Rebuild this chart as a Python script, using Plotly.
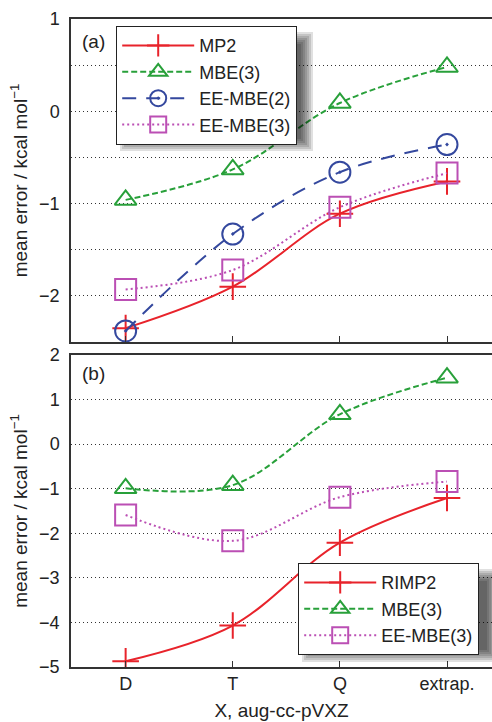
import plotly.graph_objects as go

categories = ["D", "T", "Q", "extrap."]
xpos = [0, 1, 2, 3]

# Panel (a)
a_mp2 = [-2.35, -1.90, -1.11, -0.76]
a_mbe3 = [-0.96, -0.63, 0.09, 0.48]
a_eembe2 = [-2.38, -1.33, -0.66, -0.36]
a_eembe3 = [-1.93, -1.72, -1.04, -0.67]

# Panel (b)
b_rimp2 = [-4.87, -4.07, -2.21, -1.21]
b_mbe3 = [-0.99, -0.92, 0.67, 1.49]
b_eembe3 = [-1.59, -2.17, -1.19, -0.84]

RED = "#e8232b"
GREEN = "#28a03a"
BLUE = "#34489e"
MAG = "#bb4fb4"
FONT = "Liberation Sans, Arial, Helvetica, sans-serif"

L, R, T, B = 71, 492, 19, 667
W, H = 492, 722
def px(x):
    return (x - L) / (R - L)
def py(y):
    return (B - y) / (B - T)

fig = go.Figure()

def add(y, name, color, dash, symbol, size, xa, ya, legend):
    fig.add_trace(go.Scatter(
        x=xpos, y=y, name=name, mode="lines+markers",
        line=dict(color=color, width=2, dash=dash, shape="spline", smoothing=1.0),
        marker=dict(symbol=symbol, size=size, color=color,
                    line=dict(color=color, width=2)),
        xaxis=xa, yaxis=ya, legend=legend,
    ))

add(a_mp2, "MP2", RED, "solid", "cross-thin", 19, "x2", "y2", "legend")
add(a_mbe3, "MBE(3)", GREEN, "6px,3px", "triangle-up-open", 19, "x2", "y2", "legend")
add(a_eembe2, "EE-MBE(2)", BLUE, "14px,10px", "circle-open-dot", 21, "x2", "y2", "legend")
add(a_eembe3, "EE-MBE(3)", MAG, "2px,3px", "square-open", 21, "x2", "y2", "legend")

add(b_rimp2, "RIMP2", RED, "solid", "cross-thin", 19, "x", "y", "legend2")
add(b_mbe3, "MBE(3)", GREEN, "6px,3px", "triangle-up-open", 19, "x", "y", "legend2")
add(b_eembe3, "EE-MBE(3)", MAG, "2px,3px", "square-open", 21, "x", "y", "legend2")

TF = 18
xcommon = dict(range=[-0.51, 3.42], tickvals=xpos, ticktext=categories,
               ticks="inside", ticklen=6, tickcolor="#333", showgrid=False,
               showline=True, linecolor="#333", linewidth=1.5, mirror=True,
               zeroline=False, tickfont=dict(size=TF, family=FONT, color="#222"))
ycommon = dict(showline=True, linecolor="#333", linewidth=1.5, mirror=False,
               showgrid=True, gridcolor="#333", griddash="1px,3px", gridwidth=1,
               zeroline=False, ticks="", ticklabelstandoff=6,
               tickfont=dict(size=TF, family=FONT, color="#222"),
               title=dict(text="mean error / kcal mol<sup>−1</sup>",
                          font=dict(size=19, family=FONT, color="#222"), standoff=6))

a_bottom = (B - 342) / (B - T)
b_top = (B - 355) / (B - T)

fig.update_layout(
    width=W, height=H,
    margin=dict(l=L, r=W - R, t=T, b=H - B, pad=0),
    paper_bgcolor="white", plot_bgcolor="white",
    font=dict(family=FONT, size=TF, color="#222"),
    xaxis=dict(xcommon, domain=[0, 1], anchor="y",
               title=dict(text="X, aug-cc-pVXZ", font=dict(size=19, family=FONT), standoff=10)),
    yaxis=dict(ycommon, domain=[0, b_top], anchor="x", range=[-5, 2],
               tickvals=[-5, -4, -3, -2, -1, 0, 1, 2],
               ticktext=["−5", "−4", "−3", "−2", "−1", "0", "1", "2"]),
    xaxis2=dict(xcommon, domain=[0, 1], anchor="y2", showticklabels=False),
    yaxis2=dict(ycommon, domain=[a_bottom, 1], anchor="x2", range=[-2.5, 1],
                tickvals=[-2, -1, 0, 1], ticktext=["−2", "−1", "0", "1"],
                minor=dict(dtick=0.5, showgrid=True, gridcolor="#333",
                           griddash="1px,3px", gridwidth=1)),
    legend=dict(x=px(116), y=py(26), xanchor="left", yanchor="top",
                bgcolor="white", bordercolor="#222", borderwidth=1.2,
                font=dict(size=TF, family=FONT), tracegroupgap=0, itemwidth=72),
    legend2=dict(x=px(298), y=py(563), xanchor="left", yanchor="top",
                 bgcolor="white", bordercolor="#222", borderwidth=1.2,
                 font=dict(size=TF, family=FONT), tracegroupgap=0, itemwidth=72),
    showlegend=True,
)

# soft drop shadows behind legends
def shadow(x0, y0, x1, y1, dx=10, dy=12):
    for k in range(7):
        fig.add_shape(type="rect", xref="paper", yref="paper", layer="above",
                      x0=px(x0 + dx - 6 + k * 2), x1=px(x1 + dx + 6 - k * 2),
                      y0=py(y1 + dy + 6 - k * 2), y1=py(y0 + dy - 6 + k * 2),
                      fillcolor="rgba(0,0,0,0.12)", line=dict(width=0))

shadow(116, 26, 297, 133)
shadow(298, 563, 483, 644)

fig.add_annotation(text="(a)", x=px(80), y=py(41), xref="paper", yref="paper",
                   xanchor="left", yanchor="middle", showarrow=False,
                   font=dict(size=19, family=FONT, color="#222"))
fig.add_annotation(text="(b)", x=px(80), y=py(373), xref="paper", yref="paper",
                   xanchor="left", yanchor="middle", showarrow=False,
                   font=dict(size=19, family=FONT, color="#222"))

fig.write_html("out.html")
